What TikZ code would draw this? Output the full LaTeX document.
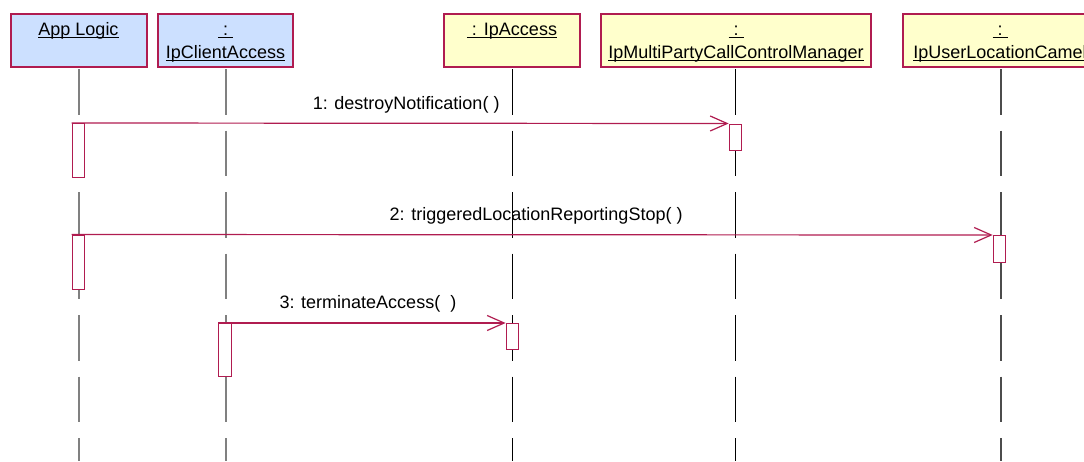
\documentclass[tikz,border=0pt]{standalone}
\usepackage{fontspec}
\setmainfont{Liberation Sans}
\usetikzlibrary{arrows.meta}
\definecolor{edgecol}{RGB}{176,28,80}
\definecolor{bluefill}{RGB}{204,224,255}
\definecolor{yellowfill}{RGB}{255,255,204}
\definecolor{lifegray}{RGB}{128,128,128}
\newcommand\myul[1]{\setbox0\hbox{#1}\rlap{\rule[-2.8pt]{\wd0}{1.3pt}}\box0}
\begin{document}
\begin{tikzpicture}[x=1pt,y=-1pt,
  objbox/.style={draw=edgecol, line width=1.2pt, inner sep=0pt, minimum height=53pt},
  lifeline/.style={line width=1.3pt, dash pattern=on 45.5pt off 16pt},
  actbox/.style={draw=edgecol, fill=white, line width=1.2pt, inner sep=0pt, minimum width=12.5pt, anchor=north},
  msg/.style={draw=edgecol, line width=1.2pt, -{Straight Barb[length=17pt,width=15pt]}},
  lbl/.style={font=\fontsize{18}{21}\selectfont, anchor=base, inner sep=0pt}
]
\useasboundingbox (0,0) rectangle (1084,461);

% object boxes
\node[objbox, fill=bluefill, minimum width=136pt] (app) at (79,40.5) {};
\node[objbox, fill=bluefill, minimum width=135pt] (ica) at (225.5,40.5) {};
\node[objbox, fill=yellowfill, minimum width=136pt] (ipa) at (512,40.5) {};
\node[objbox, fill=yellowfill, minimum width=270pt] (mpc) at (736,40.5) {};
\node[objbox, fill=yellowfill, minimum width=196pt] (ulc) at (1001,40.5) {};

% titles
\node[lbl] (appT) at (78.5,35) {\myul{App Logic}};
\node[lbl] (icaC) at (225.5,35) {\myul{\ :\ }};
\node[lbl] (icaT) at (225.5,58) {\myul{IpClientAccess}};
\node[lbl] (ipaT) at (512,35) {\myul{\ :\hspace{7pt}IpAccess}};
\node[lbl] (mpcC) at (736,35) {\myul{\ :\ }};
\node[lbl] (mpcT) at (736,58) {\myul{IpMultiPartyCallControlManager}};
\node[lbl] (ulcC) at (1000,35) {\myul{\ :\ }};
\node[lbl] (ulcT) at (1000,58) {\myul{IpUserLocationCamel}};

% lifeline ends
\coordinate (appE) at (79,461);
\coordinate (icaE) at (226,461);
\coordinate (ipaE) at (512,461);
\coordinate (mpcE) at (735,461);
\coordinate (ulcE) at (1001,461);
\coordinate (appS) at (79,69);
\coordinate (icaS) at (226,69);
\coordinate (ipaS) at (512,69);
\coordinate (mpcS) at (735,69);
\coordinate (ulcS) at (1001,69);

\draw[lifeline, lifegray] (appS) -- (appE);
\draw[lifeline, lifegray] (icaS) -- (icaE);
\draw[lifeline, black, line width=1pt] (ipaS) -- (ipaE);
\draw[lifeline, black, line width=1pt] (mpcS) -- (mpcE);
\draw[lifeline, black!70, line width=1.1pt] (ulcS) -- (ulcE);

% activation boxes
\node[actbox, minimum height=54pt] (a1) at (78.5,123) {};
\node[actbox, minimum height=26pt] (m1) at (735.5,123.5) {};
\node[actbox, minimum height=54pt] (a2) at (78.5,234.5) {};
\node[actbox, minimum height=27pt] (u2) at (999.5,235) {};
\node[actbox, minimum height=53pt] (c3) at (225,323) {};
\node[actbox, minimum height=26pt] (i3) at (512.5,323) {};

% messages
\draw[msg] (a1.north west) -- (m1.north west)
  node[lbl, pos=0.5, yshift=14pt, xshift=6pt] (l1) {1: destroyNotification( )};
\draw[msg] (a2.north west) -- (u2.north west)
  node[lbl, pos=0.5, yshift=14pt, xshift=4pt] (l2) {2: triggeredLocationReportingStop( )};
\draw[msg] (c3.north west) -- (i3.north west)
  node[lbl, pos=0.5, yshift=15pt, xshift=6pt] (l3) {3: terminateAccess(\ \ )};
\end{tikzpicture}
\end{document}
